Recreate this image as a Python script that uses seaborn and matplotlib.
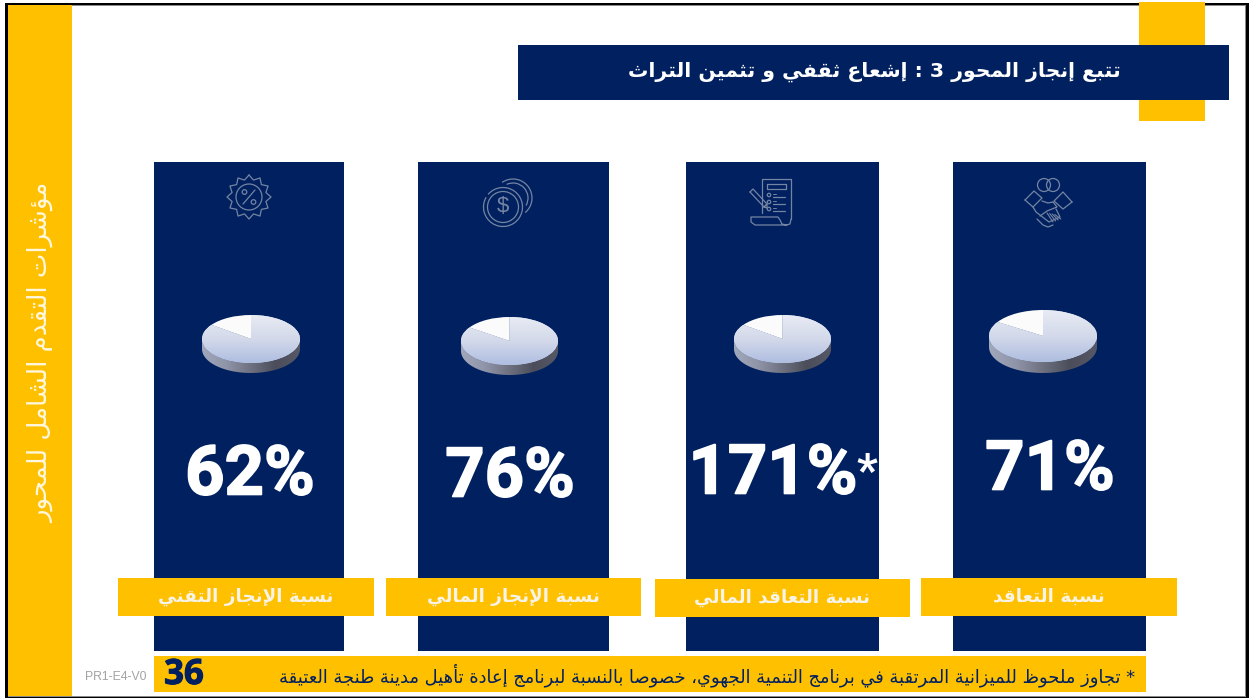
import numpy as np
import matplotlib
matplotlib.use("Agg")
import matplotlib.pyplot as plt
import matplotlib.patheffects as pe
import seaborn as sns
from matplotlib.patches import Rectangle, Circle, Polygon, Arc
from matplotlib.colors import LinearSegmentedColormap

# ---------- data ----------
categories = ["نسبة الإنجاز التقني", "نسبة الإنجاز المالي", "نسبة التعاقد المالي", "نسبة التعاقد"]
percent_values = [62, 76, 171, 71]
percent_marks = ["", "", "*", ""]
pie_white_share = [15, 15.5, 15, 16]
title_text = "تتبع إنجاز المحور 3 : إشعاع ثقفي و تثمين التراث"
side_text = "مؤشرات التقدم الشامل للمحور"
footnote_text = "* تجاوز ملحوظ للميزانية المرتقبة في برنامج التنمية الجهوي، خصوصا بالنسبة لبرنامج إعادة تأهيل مدينة طنجة العتيقة"
page_number = "36"
doc_code = "PR1-E4-V0"

# ---------- style ----------
NAVY = "#012060"
GOLD = "#FFC000"
ICON = "#7485a2"
W, H = 1249, 698

# ---------- Arabic shaping (matplotlib draws glyphs left to right, unshaped) ----------
FORMS = {
    "ء": "\uFE80", "آ": "\uFE81\uFE82", "أ": "\uFE83\uFE84", "ؤ": "\uFE85\uFE86", "إ": "\uFE87\uFE88",
    "ئ": "\uFE89\uFE8A\uFE8B\uFE8C", "ا": "\uFE8D\uFE8E", "ب": "\uFE8F\uFE90\uFE91\uFE92",
    "ة": "\uFE93\uFE94", "ت": "\uFE95\uFE96\uFE97\uFE98", "ث": "\uFE99\uFE9A\uFE9B\uFE9C",
    "ج": "\uFE9D\uFE9E\uFE9F\uFEA0", "ح": "\uFEA1\uFEA2\uFEA3\uFEA4", "خ": "\uFEA5\uFEA6\uFEA7\uFEA8",
    "د": "\uFEA9\uFEAA", "ذ": "\uFEAB\uFEAC", "ر": "\uFEAD\uFEAE", "ز": "\uFEAF\uFEB0",
    "س": "\uFEB1\uFEB2\uFEB3\uFEB4", "ش": "\uFEB5\uFEB6\uFEB7\uFEB8", "ص": "\uFEB9\uFEBA\uFEBB\uFEBC",
    "ض": "\uFEBD\uFEBE\uFEBF\uFEC0", "ط": "\uFEC1\uFEC2\uFEC3\uFEC4", "ظ": "\uFEC5\uFEC6\uFEC7\uFEC8",
    "ع": "\uFEC9\uFECA\uFECB\uFECC", "غ": "\uFECD\uFECE\uFECF\uFED0", "ف": "\uFED1\uFED2\uFED3\uFED4",
    "ق": "\uFED5\uFED6\uFED7\uFED8", "ك": "\uFED9\uFEDA\uFEDB\uFEDC", "ل": "\uFEDD\uFEDE\uFEDF\uFEE0",
    "م": "\uFEE1\uFEE2\uFEE3\uFEE4", "ن": "\uFEE5\uFEE6\uFEE7\uFEE8", "ه": "\uFEE9\uFEEA\uFEEB\uFEEC",
    "و": "\uFEED\uFEEE", "ى": "\uFEEF\uFEF0", "ي": "\uFEF1\uFEF2\uFEF3\uFEF4",
}
LAM_ALEF = {"آ": "\uFEF5\uFEF6", "أ": "\uFEF7\uFEF8", "إ": "\uFEF9\uFEFA", "ا": "\uFEFB\uFEFC"}


def shape(text):
    out, i = [], 0
    joins_prev = False
    while i < len(text):
        c = text[i]
        if c not in FORMS:
            out.append(c)
            joins_prev = False
            i += 1
            continue
        if c == "ل" and i + 1 < len(text) and text[i + 1] in LAM_ALEF:
            out.append(LAM_ALEF[text[i + 1]][1 if joins_prev else 0])
            joins_prev = False
            i += 2
            continue
        f = FORMS[c]
        can_next = len(f) == 4 and i + 1 < len(text) and text[i + 1] in FORMS
        if len(f) == 1:
            g = f[0]
        elif joins_prev and can_next:
            g = f[3]
        elif joins_prev:
            g = f[1]
        elif can_next:
            g = f[2]
        else:
            g = f[0]
        out.append(g)
        joins_prev = can_next
        i += 1
    # visual order: reverse, keeping digit/latin runs left-to-right
    vis, run = [], ""
    for ch in out:
        if ch.isascii() and ch.isalnum():
            run += ch
        else:
            if run:
                vis.append(run)
                run = ""
            vis.append(ch)
    if run:
        vis.append(run)
    return "".join(reversed(vis))


sns.set_theme(style="white")
plt.rcParams["font.family"] = ["DejaVu Sans"]

fig = plt.figure(figsize=(W / 100, H / 100), dpi=100, facecolor="white")
page = fig.add_axes([0, 0, 1, 1], zorder=0)
page.set_xlim(0, W)
page.set_ylim(H, 0)
page.axis("off")


def box(ax, x0, y0, x1, y1, color, z=1, **kw):
    ax.add_patch(Rectangle((x0, y0), x1 - x0, y1 - y0, facecolor=color, edgecolor="none", zorder=z, **kw))


def px_axes(x0, y0, x1, y1, z):
    a = fig.add_axes([x0 / W, 1 - y1 / H, (x1 - x0) / W, (y1 - y0) / H], zorder=z)
    a.patch.set_alpha(0)
    return a


# slide frame and bands
box(page, 5, 5, 1245, 6, "#8a8a8a", z=1)
box(page, 1245, 5, 1246, 697, "#8a8a8a", z=1)
box(page, 8, 696, 1246, 697, "#8a8a8a", z=1)
box(page, 5, 3, 1249, 5, "black", z=1)
box(page, 5, 3, 8, 698, "black", z=1)
box(page, 1246, 3, 1249, 698, "black", z=1)
box(page, 5, 697, 1249, 698, "black", z=1)
box(page, 8, 5, 72, 696, GOLD, z=2)
box(page, 1139, 2, 1205, 121, GOLD, z=2)
box(page, 518, 45, 1229, 100, NAVY, z=3)

# column geometry
panels = [(154, 344), (418, 609), (686, 879), (953, 1146)]
label_boxes = [(118, 374, 578, 616), (386, 641, 578, 616), (655, 910, 579, 617), (921, 1177, 578, 616)]
pie_boxes = [(202, 300, 315, 363, 373), (461, 558, 317, 365, 375), (734, 831, 315, 363, 373), (989, 1097, 310, 362, 373)]
number_pos = [(250, 476), (510, 478), (773, 475), (1050, 471)]

# navy columns as seaborn bars, each filling its own small axes
for (x0, x1), cat in zip(panels, categories):
    a = px_axes(x0, 162, x1, 651, 1)
    sns.barplot(x=[cat], y=[1], width=1, color=NAVY, saturation=1, linewidth=0, ax=a)
    a.set_xlim(-0.5, 0.5)
    a.set_ylim(0, 1)
    a.set_xlabel("")
    a.set_ylabel("")
    a.set_xticks([])
    a.set_yticks([])
    sns.despine(ax=a, left=True, bottom=True)

# overlay canvas for everything above the columns
top = fig.add_axes([0, 0, 1, 1], zorder=3)
top.set_xlim(0, W)
top.set_ylim(H, 0)
top.axis("off")
top.patch.set_alpha(0)

box(top, 154, 656, 1146, 692, GOLD)
for (x0, x1, y0, y1), cat in zip(label_boxes, categories):
    box(top, x0, y0, x1, y1, GOLD)
    top.text((x0 + x1) / 2, (y0 + y1) / 2, shape(cat), color="#f7f3e6", fontsize=13.2,
             fontweight="bold", ha="center", va="center", zorder=4)

# title, side text, footer
page.text(874, 72, shape(title_text), color="white", fontsize=14.7, fontweight="bold",
          ha="center", va="center", zorder=4)
page.text(41, 353, shape(side_text), color="#fff8e0", fontsize=18.7, rotation=90,
          ha="center", va="center", zorder=4)
top.text(1135, 675, shape(footnote_text), color=NAVY, fontsize=12.9, ha="right", va="center", zorder=4)
top.text(184, 675, page_number, color=NAVY, fontsize=25, fontweight="bold", family="Open Sans",
         ha="center", va="center", zorder=4,
         path_effects=[pe.withStroke(linewidth=0.8, foreground=NAVY)])
page.text(115.5, 677.5, doc_code, color="#a3a3a3", fontsize=8.8, family="Liberation Sans",
          ha="center", va="center", zorder=4)

# percent numbers
for (cx, cy), v, mark in zip(number_pos, percent_values, percent_marks):
    t = top.text(cx, cy, f"{v}%", color="white", fontsize=49.5, fontweight="bold", family="Roboto",
                 ha="center", va="center", zorder=4,
                 path_effects=[pe.withStroke(linewidth=1.2, foreground="white")])
    if mark:
        top.annotate(mark, xy=(1, 0), xycoords=t, xytext=(-1, 13), textcoords="offset pixels",
                     color="white", fontsize=33, fontweight="bold", family="Roboto",
                     ha="left", va="bottom", zorder=4)

# 3-D looking pies: ax.pie for the slices, gradient images clipped to the wedges
top_cmap = LinearSegmentedColormap.from_list("t", ["#e8ebf4", "#d3d9ea", "#aebde0"])
side_cmap = LinearSegmentedColormap.from_list("s", ["#a2a8bc", "#8f94a8", "#6d707f", "#4b4e5a", "#565965"])
for (x0, x1, y0, y1, y2), share in zip(pie_boxes, pie_white_share):
    a = px_axes(x0, y0, x1, y2, 4)
    ry = (y1 - y0) / 2
    d = (y2 - y1) / ry
    wedges, _ = a.pie([share, 100 - share], colors=["#fbfbfb", "#dfe3f0"], startangle=90,
                      counterclock=True, radius=1, center=(0, 0),
                      wedgeprops=dict(linewidth=0, zorder=3))
    a.set_aspect("auto")
    t = np.linspace(np.pi, 2 * np.pi, 120)
    band = np.c_[np.r_[np.cos(t), np.cos(t[::-1])], np.r_[np.sin(t) - d, np.sin(t[::-1])]]
    side_im = a.imshow(np.linspace(0, 1, 200).reshape(1, -1), cmap=side_cmap, extent=(-1, 1, -1 - d, 1),
                       aspect="auto", zorder=2)
    clip = Polygon(band, closed=True, transform=a.transData, facecolor="none", edgecolor="none")
    a.add_patch(clip)
    side_im.set_clip_path(clip)
    top_im = a.imshow(np.linspace(0, 1, 200).reshape(-1, 1), cmap=top_cmap, extent=(-1, 1, -1, 1),
                      aspect="auto", zorder=4)
    top_im.set_clip_path(wedges[1])
    a.set_xlim(-1, 1)
    a.set_ylim(-1 - d, 1)
    a.axis("off")


# ---------- line icons ----------
def line(xs, ys, lw=0.9):
    top.plot(xs, ys, color=ICON, lw=lw, solid_capstyle="round", solid_joinstyle="round", zorder=4)


def ring(cx, cy, r, lw=0.9):
    top.add_patch(Circle((cx, cy), r, fill=False, edgecolor=ICON, lw=lw, zorder=4))


def arc(cx, cy, r, a0, a1, lw=0.9):
    # the canvas has an inverted y axis: arc angles run clockwise on screen
    top.add_patch(Arc((cx, cy), 2 * r, 2 * r, theta1=a0, theta2=a1, edgecolor=ICON, lw=lw, zorder=4))


# badge with percent
cx, cy = 249, 197
n = 12
ang = np.linspace(0, 2 * np.pi, n * 2 + 1) + np.pi / 2
rad = np.where(np.arange(n * 2 + 1) % 2 == 0, 22, 17.5)
line(cx + rad * np.cos(ang), cy - rad * np.sin(ang))
ring(cx, cy, 13)
line([cx - 6, cx + 6], [cy + 7, cy - 7])
ring(cx - 4.5, cy - 5, 2.3)
ring(cx + 4.5, cy + 5, 2.3)

# coins
arc(503, 207, 19.5, 220, 570)
ring(503, 207, 15.5)
arc(513, 198, 19, -125, 50)
arc(513, 198, 15, -115, 30)
top.text(503, 207, "$", color=ICON, fontsize=16, ha="center", va="center", zorder=4, family="Liberation Sans")

# document with pencil
line([762, 762, 791, 791], [213, 179, 179, 219])
line([791, 790, 786, 782, 780, 778, 751, 751, 755, 787], [219, 224, 225, 224, 220, 217, 217, 222, 225, 225])
line([767, 786, 786, 767, 767], [184, 184, 189, 189, 184])
for y in (195, 202, 209):
    ring(769, y, 1.7)
    line([773, 785], [y + 2, y + 2])
    line([773, 776], [y - 1, y - 1], lw=0.7)
line([750, 753, 767, 764, 750], [192, 189, 204, 207, 192])
line([764, 767, 767, 764], [207, 204, 208, 207])

# handshake with speech bubbles
ring(1044, 185, 6.5)
ring(1053, 185, 6.5)
line([1025, 1034, 1042, 1033, 1025], [200, 191, 198, 207, 200])
line([1072, 1063, 1054, 1063, 1072], [202, 192, 201, 209, 202])
line([1042, 1048, 1053], [201, 203, 202])
line([1033, 1036, 1049, 1060, 1056], [207, 212, 222, 217, 209])
line([1053, 1057, 1047, 1040], [202, 207, 211, 216])
line([1037, 1043, 1048, 1053], [219, 225, 227, 225])
for k in range(4):
    line([1047 + 2.6 * k, 1053 + 2.6 * k], [213 + 0.5 * k, 222 - 1.0 * k], lw=0.8)

fig.savefig("out.png", dpi=100, facecolor="white")
